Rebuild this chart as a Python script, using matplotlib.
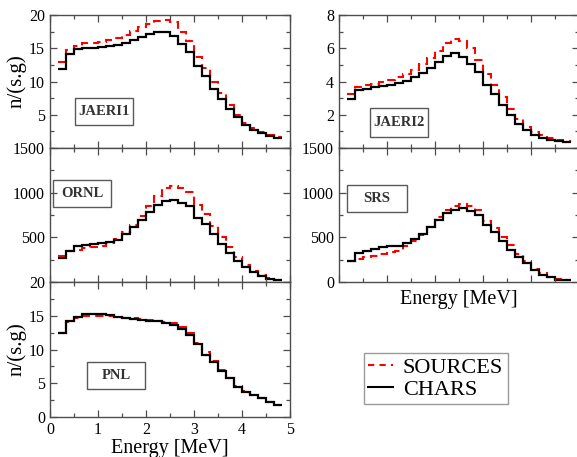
import numpy as np
import matplotlib
matplotlib.use("Agg")
import matplotlib.pyplot as plt
from matplotlib.patches import Rectangle
from matplotlib.ticker import MultipleLocator
from matplotlib.lines import Line2D

plt.rcParams['font.family'] = ['Liberation Serif', 'DejaVu Serif']

# bin edges (MeV)
edges = np.arange(1, 30) / 6.0

# JAERI1
jaeri1_src = [13.0, 14.7, 15.3, 15.8, 15.8, 16.0, 16.2, 16.6, 17.0, 17.6, 18.2, 18.7, 19.1, 19.2,
              18.9, 17.5, 16.1, 13.7, 12.0, 10.0, 8.2, 6.4, 5.0, 3.8, 3.0, 2.4, 1.9, 1.7]
jaeri1_chr = [11.9, 14.2, 14.9, 15.1, 15.1, 15.2, 15.3, 15.5, 15.8, 16.2, 16.7, 17.2, 17.5, 17.5,
              16.8, 15.6, 14.5, 12.3, 10.8, 8.9, 7.4, 5.8, 4.7, 3.4, 2.7, 2.2, 1.8, 1.5]
# JAERI2
jaeri2_src = [3.26, 3.66, 3.76, 3.86, 3.96, 4.1, 4.26, 4.46, 4.7, 5.06, 5.42, 5.86, 6.3, 6.56,
              6.42, 6.0, 5.32, 4.46, 3.8, 3.06, 2.36, 1.72, 1.26, 0.96, 0.76, 0.6, 0.5, 0.4]
jaeri2_chr = [2.96, 3.46, 3.56, 3.66, 3.72, 3.8, 3.92, 4.06, 4.26, 4.52, 4.82, 5.2, 5.52, 5.7,
              5.5, 5.06, 4.6, 3.8, 3.26, 2.56, 2.0, 1.46, 1.06, 0.8, 0.6, 0.5, 0.42, 0.36]
# ORNL
ornl_src = [287, 343, 358, 377, 388, 407, 433, 481, 556, 642, 742, 854, 966, 1048,
            1078, 1048, 1003, 862, 761, 630, 500, 388, 283, 194, 127, 78, 45, 26]
ornl_chr = [265, 350, 407, 418, 425, 433, 444, 474, 537, 612, 694, 787, 865, 903,
            921, 880, 854, 716, 649, 537, 425, 325, 239, 164, 108, 63, 34, 22]
# SRS
srs_src = [231, 261, 276, 295, 313, 332, 351, 399, 455, 530, 615, 724, 809, 854,
           873, 847, 809, 679, 604, 500, 418, 313, 231, 149, 101, 56, 34, 19]
srs_chr = [231, 325, 351, 373, 388, 399, 407, 436, 481, 537, 612, 698, 772, 809,
           828, 798, 753, 642, 560, 455, 362, 276, 213, 138, 82, 52, 26, 19]
# PNL
pnl_src = [12.4, 14.1, 14.6, 15.0, 15.0, 15.0, 14.9, 14.75, 14.65, 14.6, 14.5, 14.4, 14.25, 14.1,
           13.9, 13.35, 12.4, 11.0, 9.6, 8.25, 6.9, 5.85, 4.6, 3.85, 3.25, 2.75, 2.25, 1.75]
pnl_chr = [12.4, 14.25, 14.85, 15.25, 15.25, 15.25, 15.1, 14.85, 14.6, 14.5, 14.35, 14.25, 14.15, 14.0,
           13.65, 13.0, 12.1, 10.85, 9.25, 8.1, 6.75, 5.75, 4.5, 3.75, 3.25, 2.75, 2.25, 1.75]

W, H = 577, 457
fig = plt.figure(figsize=(W / 100, H / 100), dpi=100)


def px_axes(x0, x1, y0, y1):
    return fig.add_axes([x0 / W, 1 - y1 / H, (x1 - x0) / W, (y1 - y0) / H])


def style(ax, ymax, ymaj, yticks, xlabels=False):
    ax.set_xlim(0, 5)
    ax.set_ylim(0, ymax)
    ax.xaxis.set_major_locator(MultipleLocator(1))
    ax.xaxis.set_minor_locator(MultipleLocator(0.5))
    ax.yaxis.set_minor_locator(MultipleLocator(ymaj / 2))
    ax.set_yticks(yticks)
    ax.tick_params(which='both', direction='in', top=True, right=True, colors='0.3',
                   labelcolor='black', labelsize=11.5)
    ax.tick_params(which='major', length=5, width=0.9)
    ax.tick_params(which='minor', length=3, width=0.9)
    if not xlabels:
        ax.set_xticklabels([])
    for s in ax.spines.values():
        s.set_color('0.3')
        s.set_linewidth(1.0)


def draw(ax, src, chr_):
    ax.stairs(src, edges, color='red', lw=1.5, linestyle=(0, (4, 2.5)), baseline=None)
    ax.stairs(chr_, edges, color='black', lw=1.6, baseline=None)


def label_box(ax, text, bx0, bx1, by0, by1, ax_px):
    x0, x1, y0, y1 = ax_px
    fx0 = (bx0 - x0) / (x1 - x0)
    fw = (bx1 - bx0) / (x1 - x0)
    fy0 = (y1 - by1) / (y1 - y0)
    fh = (by1 - by0) / (y1 - y0)
    ax.add_patch(Rectangle((fx0, fy0), fw, fh, transform=ax.transAxes, fill=False,
                           edgecolor='0.35', lw=1.0))
    ax.text(fx0 + fw / 2, fy0 + fh / 2, text, transform=ax.transAxes, ha='center',
            va='center', fontsize=10.5, fontweight='bold', color='0.2')


p_tl = (50, 290, 15, 148)
p_ml = (50, 290, 148, 282)
p_bl = (50, 290, 282, 417)
p_tr = (339, 579, 15, 148)
p_mr = (339, 579, 148, 282)

ax1 = px_axes(*p_tl)
draw(ax1, jaeri1_src, jaeri1_chr)
style(ax1, 20, 5, [5, 10, 15, 20])
ax1.set_ylabel('n/(s.g)', fontsize=15, labelpad=2)
label_box(ax1, 'JAERI1', 75, 133, 98, 125, p_tl)

ax2 = px_axes(*p_tr)
draw(ax2, jaeri2_src, jaeri2_chr)
style(ax2, 8, 2, [2, 4, 6, 8])
label_box(ax2, 'JAERI2', 370, 428, 108, 137, p_tr)

ax3 = px_axes(*p_ml)
draw(ax3, ornl_src, ornl_chr)
style(ax3, 1500, 500, [500, 1000, 1500])
label_box(ax3, 'ORNL', 53, 111, 180, 207, p_ml)

ax4 = px_axes(*p_mr)
draw(ax4, srs_src, srs_chr)
style(ax4, 1500, 500, [0, 500, 1000, 1500])
ax4.set_xlabel('Energy [MeV]', fontsize=14.5, labelpad=2)
label_box(ax4, 'SRS', 347, 407, 185, 212, p_mr)

ax5 = px_axes(*p_bl)
draw(ax5, pnl_src, pnl_chr)
style(ax5, 20, 5, [0, 5, 10, 15, 20], xlabels=True)
ax5.set_ylabel('n/(s.g)', fontsize=15, labelpad=2)
ax5.set_xlabel('Energy [MeV]', fontsize=14.5, labelpad=1)
label_box(ax5, 'PNL', 87, 145, 362, 389, p_bl)

handles = [Line2D([], [], color='red', lw=1.5, linestyle=(0, (3, 2.5))),
           Line2D([], [], color='black', lw=1.5)]
leg = fig.legend(handles, ['SOURCES', 'CHARS'], loc='upper left',
                 bbox_to_anchor=(364 / W, 1 - 353 / H), fontsize=16, frameon=True,
                 fancybox=False, handlelength=1.1, handletextpad=0.45, borderpad=0.2,
                 labelspacing=0.05, borderaxespad=0)
leg.get_frame().set_edgecolor('0.5')
leg.get_frame().set_linewidth(1.0)

fig.savefig('out.png', dpi=100)
